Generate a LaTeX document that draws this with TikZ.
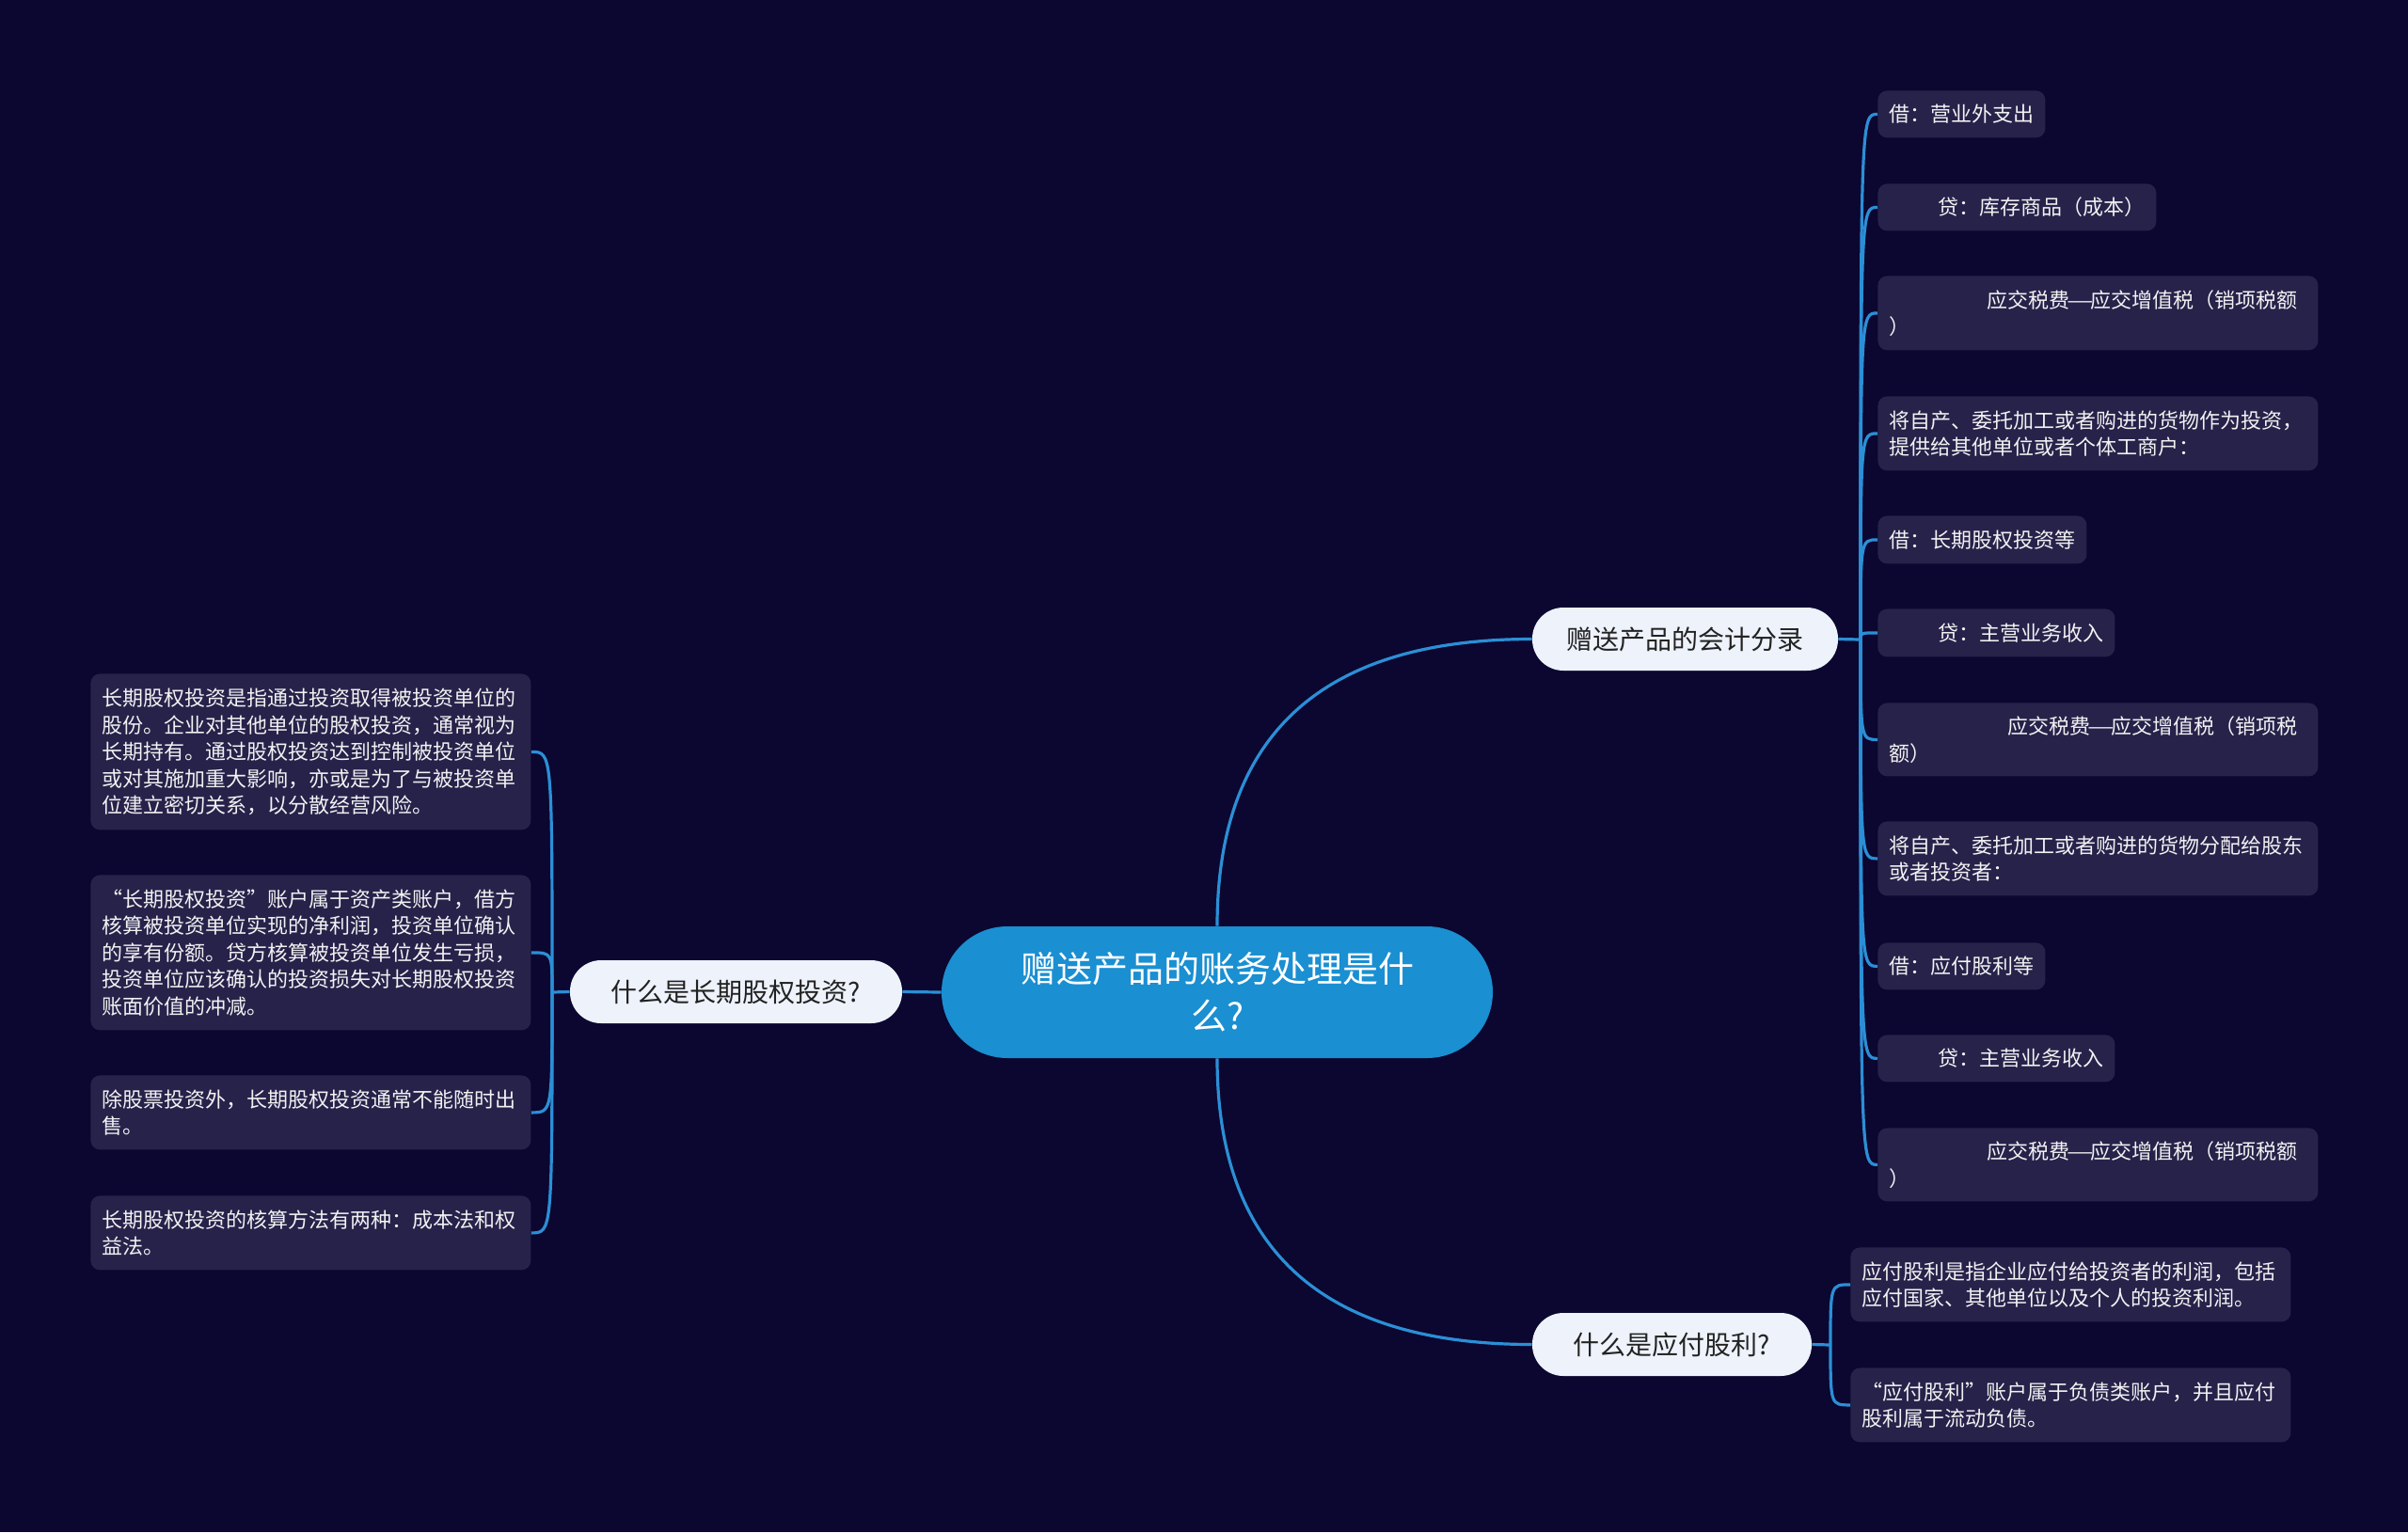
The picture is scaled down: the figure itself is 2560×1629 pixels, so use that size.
\documentclass[tikz,border=0pt]{standalone}
\usepackage{fontspec}
\usepackage{graphicx}
\newfontfamily\cjk{Noto Sans CJK SC}
\usetikzlibrary{calc}
\definecolor{bgc}{HTML}{0B0730}
\definecolor{leafc}{HTML}{26224A}
\definecolor{linec}{HTML}{2B8FD6}
\definecolor{centerc}{HTML}{1A8FD1}
\definecolor{lonec}{HTML}{EDF2FB}
\definecolor{lonetext}{HTML}{222222}
\definecolor{leaftext}{HTML}{F2F2F2}
\newcommand{\wdash}{\makebox[11pt]{\scalebox{1.45}[1]{—}}}
\tikzset{
  leaf/.style={fill=leafc, rounded corners=5pt, text=leaftext,
    font=\cjk\fontsize{11}{14.25}\selectfont, inner xsep=6pt, inner ysep=0pt,
    align=left, anchor=north west},
  leafw/.style={leaf, text width=222pt},
  lone/.style={fill=lonec, text=lonetext, rounded corners=16.5pt,
    minimum height=33.5pt, inner sep=0pt, font=\cjk\fontsize{14}{17}\selectfont},
  centernode/.style={fill=centerc, text=white, rounded corners=35pt,
    minimum width=293pt, minimum height=70pt, inner sep=0pt, align=center,
    font=\cjk\fontsize{19}{25}\selectfont},
  conn/.style={draw=linec, line width=1.6pt}
}
\begin{document}
\begin{tikzpicture}[x=0.5pt,y=-0.5pt]
\fill[bgc] (0,0) rectangle (2560,1629);
\useasboundingbox (0,0) rectangle (2560,1629);

% central and first-level nodes
\node[centernode] (C) at (1294,1055) {赠送产品的账务处理是什\\么?};
\node[lone, minimum width=162.5pt] (R1) at (1791.5,679.5) {赠送产品的会计分录};
\node[lone, minimum width=176.5pt] (L1) at (782.5,1054.5) {什么是长期股权投资?};
\node[lone, minimum width=148.5pt] (R2) at (1777.5,1429.5) {什么是应付股利?};

% right leaves
\node[leaf, minimum height=25pt] (r1) at (1996,96) {借：营业外支出};
\node[leaf, minimum height=25pt] (r2) at (1996,195) {\hspace*{26pt}贷：库存商品（成本）};
\node[leafw, minimum height=39.5pt] (r3) at (1996,293) {\hspace*{52pt}应交税费\wdash 应交增值税（销项税额\\）};
\node[leafw, minimum height=39.5pt] (r4) at (1996,421) {将自产、委托加工或者购进的货物作为投资，\\提供给其他单位或者个体工商户：};
\node[leaf, minimum height=25.5pt] (r5) at (1996,548) {借：长期股权投资等};
\node[leaf, minimum height=25.5pt] (r6) at (1996,647) {\hspace*{26pt}贷：主营业务收入};
\node[leafw, minimum height=39pt] (r7) at (1996,747) {\hspace*{63pt}应交税费\wdash 应交增值税（销项税\\额）};
\node[leafw, minimum height=39.5pt] (r8) at (1996,873) {将自产、委托加工或者购进的货物分配给股东\\或者投资者：};
\node[leaf, minimum height=25pt] (r9) at (1996,1002) {借：应付股利等};
\node[leaf, minimum height=25pt] (r10) at (1996,1100) {\hspace*{26pt}贷：主营业务收入};
\node[leafw, minimum height=39pt] (r11) at (1996,1199) {\hspace*{52pt}应交税费\wdash 应交增值税（销项税额\\）};

% left leaves
\node[leafw, minimum height=83pt] (l1) at (96,716) {长期股权投资是指通过投资取得被投资单位的\\股份。企业对其他单位的股权投资，通常视为\\长期持有。通过股权投资达到控制被投资单位\\或对其施加重大影响，亦或是为了与被投资单\\位建立密切关系，以分散经营风险。};
\node[leafw, minimum height=82.5pt] (l2) at (96,930) {“长期股权投资”账户属于资产类账户，借方\\核算被投资单位实现的净利润，投资单位确认\\的享有份额。贷方核算被投资单位发生亏损，\\投资单位应该确认的投资损失对长期股权投资\\账面价值的冲减。};
\node[leafw, minimum height=39.5pt] (l3) at (96,1143) {除股票投资外，长期股权投资通常不能随时出\\售。};
\node[leafw, minimum height=39.5pt] (l4) at (96,1271) {长期股权投资的核算方法有两种：成本法和权\\益法。};

% bottom-right leaves
\node[leafw, minimum height=39.5pt] (b1) at (1967,1326) {应付股利是指企业应付给投资者的利润，包括\\应付国家、其他单位以及个人的投资利润。};
\node[leafw, minimum height=39.5pt] (b2) at (1967,1454) {“应付股利”账户属于负债类账户，并且应付\\股利属于流动负债。};

% hubs
\coordinate (hubR) at (1978,680);
\coordinate (hubL) at (587,1055);
\coordinate (hubB) at (1946,1430);
\coordinate (cornT) at (C.north |- R1.west);
\coordinate (cornB) at (C.south |- R2.west);

% center connectors
\draw[conn] (C.north) .. controls ($(C.north)!0.667!(cornT)$) and ($(R1.west)!0.667!(cornT)$) .. (R1.west);
\draw[conn] (C.south) .. controls ($(C.south)!0.667!(cornB)$) and ($(R2.west)!0.667!(cornB)$) .. (R2.west);
\draw[conn] (C.west) -- (L1.east);

% right bracket
\draw[conn] (R1.east) -- (hubR);
\foreach \n in {r1,r2,r3,r4,r5,r6,r7,r8,r9,r10,r11}
  \draw[conn] (hubR) .. controls (hubR |- \n.west) .. (\n.west);

% left bracket
\draw[conn] (L1.west) -- (hubL);
\foreach \n in {l1,l2,l3,l4}
  \draw[conn] (hubL) .. controls (hubL |- \n.east) .. (\n.east);

% bottom-right bracket
\draw[conn] (R2.east) -- (hubB);
\foreach \n in {b1,b2}
  \draw[conn] (hubB) .. controls (hubB |- \n.west) .. (\n.west);
\end{tikzpicture}
\end{document}
